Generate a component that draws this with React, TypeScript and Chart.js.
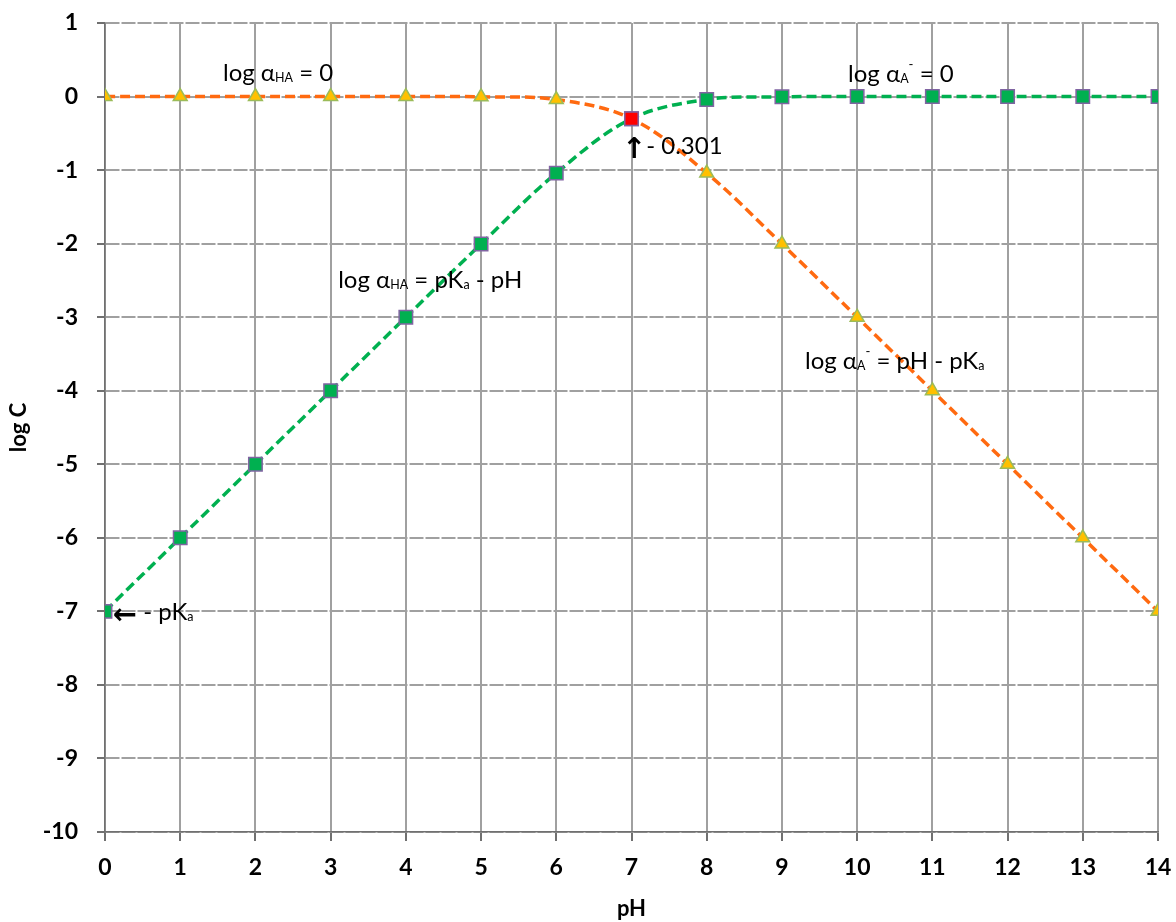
import React, { useEffect, useRef } from "react";
import { Chart, registerables } from "chart.js";

Chart.register(...registerables);

// ---- data ----
const pH = [0, 1, 2, 3, 4, 5, 6, 7, 8, 9, 10, 11, 12, 13, 14];
const logAlphaHA = [0, 0, 0, 0, -0.0004, -0.004, -0.041, -0.301, -1.041, -2.004, -3.0004, -4, -5, -6, -7];
const logAlphaA = [-7, -6, -5, -4, -3.0004, -2.004, -1.041, -0.301, -0.041, -0.004, -0.0004, 0, 0, 0, 0];
const crossPH = [7];
const crossLogC = [-0.301];
const xTicks = { min: 0, max: 14, step: 1 };
const yTicks = { min: -10, max: 1, step: 1 };

type Part = [string, "" | "sub" | "sup" | "arrow"];
const notes: { x: number; y: number; parts: Part[] }[] = [
  { x: 1.569, y: 0.211, parts: [["log α", ""], ["HA", "sub"], [" = 0", ""]] },
  { x: 9.88, y: 0.2, parts: [["log α", ""], ["A", "sub"], ["-", "sup"], [" = 0", ""]] },
  { x: 3.1, y: -2.603, parts: [["log α", ""], ["HA", "sub"], [" = pK", ""], ["a", "sub"], [" - pH", ""]] },
  { x: 9.307, y: -3.705, parts: [["log α", ""], ["A", "sub"], ["-", "sup"], [" = pH - pK", ""], ["a", "sub"]] },
  { x: 6.874, y: -0.781, parts: [["↑", "arrow"], ["- 0.301", ""]] },
  { x: 0.106, y: -7.117, parts: [["←", "arrow"], [" - pK", ""], ["a", "sub"]] },
];

const FONT = "Lato, 'DejaVu Sans', sans-serif";
const NOTE_SIZE = 24;

const notesPlugin = {
  id: "notes",
  afterDatasetsDraw(chart: any) {
    const { ctx, scales } = chart;
    const xs = scales.x;
    const ys = scales.y;
    ctx.save();
    ctx.fillStyle = "#000";
    ctx.textBaseline = "alphabetic";
    ctx.textAlign = "left";
    for (const n of notes) {
      let px = xs.getPixelForValue(n.x);
      const base = ys.getPixelForValue(n.y);
      for (const [t, mode] of n.parts) {
        let by = base;
        if (mode === "sub") {
          ctx.font = `${NOTE_SIZE * 0.52}px ${FONT}`;
          by = base + NOTE_SIZE * 0.05;
        } else if (mode === "sup") {
          ctx.font = `${NOTE_SIZE * 0.55}px ${FONT}`;
          by = base - NOTE_SIZE * 0.55;
        } else if (mode === "arrow") {
          ctx.font = `bold ${NOTE_SIZE * 1.2}px 'DejaVu Sans', sans-serif`;
          by = base + 4;
        } else {
          ctx.font = `${NOTE_SIZE}px ${FONT}`;
        }
        ctx.fillText(t, px, by);
        px += ctx.measureText(t).width;
      }
    }
    ctx.restore();
  },
};

export default function App() {
  const ref = useRef<HTMLCanvasElement | null>(null);

  useEffect(() => {
    if (!ref.current) return;
    const markIndex = pH.indexOf(crossPH[0]);
    const chart = new Chart(ref.current, {
      type: "line",
      data: {
        datasets: [
          {
            label: "cross",
            data: crossPH.map((x, i) => ({ x, y: crossLogC[i] })),
            showLine: false,
            pointStyle: "rect",
            pointRadius: 9.5,
            pointBackgroundColor: "#FF0000",
            pointBorderColor: "#8064A2",
            pointBorderWidth: 1.5,
          },
          {
            label: "log αA",
            data: pH.map((x, i) => ({ x, y: logAlphaA[i] })),
            borderColor: "#00B050",
            borderWidth: 3.5,
            borderDash: [10, 5],
            tension: 0.35,
            pointStyle: "rect",
            pointRadius: 9.5,
            pointBackgroundColor: "#00B050",
            pointBorderColor: "#8064A2",
            pointBorderWidth: 1.5,
          },
          {
            label: "log αHA",
            data: pH.map((x, i) => ({ x, y: logAlphaHA[i] })),
            borderColor: "#FF6A10",
            borderWidth: 3.5,
            borderDash: [10, 5],
            tension: 0.35,
            pointStyle: "triangle",
            pointRadius: (c: any) => (c.dataIndex === markIndex ? 0 : 8),
            pointBackgroundColor: "#FFC000",
            pointBorderColor: "#9BBB59",
            pointBorderWidth: 1.5,
          },
        ],
      },
      options: {
        responsive: false,
        animation: false,
        events: [],
        layout: { padding: { top: 23, right: 18, left: 0, bottom: 0 } },
        plugins: { legend: { display: false }, tooltip: { enabled: false } },
        scales: {
          x: {
            type: "linear",
            min: xTicks.min,
            max: xTicks.max,
            afterFit: (s: any) => {
              s.height = 90;
              s.paddingLeft = 0;
              s.paddingRight = 0;
            },
            ticks: {
              stepSize: xTicks.step,
              color: "#000",
              font: { family: FONT, size: 23, weight: "bold" },
              padding: 13,
            },
            grid: {
              color: "#A0A0A0",
              lineWidth: 2,
              tickColor: "#404040",
              tickLength: 9,
              tickWidth: 1.5,
            },
            border: { color: "#707070", width: 1.5 },
            title: {
              display: true,
              text: "pH",
              color: "#000",
              font: { family: FONT, size: 22, weight: "bold" },
              padding: { top: 0, bottom: 0 },
            },
          },
          y: {
            type: "linear",
            min: yTicks.min,
            max: yTicks.max,
            afterFit: (s: any) => {
              s.width = 105;
              s.paddingTop = 0;
              s.paddingBottom = 0;
            },
            ticks: {
              stepSize: yTicks.step,
              color: "#000",
              font: { family: FONT, size: 23, weight: "bold" },
              padding: 19,
            },
            grid: {
              color: "#A0A0A0",
              lineWidth: 2,
              tickColor: "#404040",
              tickLength: 8,
              tickWidth: 1.5,
              tickBorderDash: [],
            },
            border: { color: "#707070", width: 1.5, dash: [14, 2] },
            title: {
              display: true,
              text: "log C",
              color: "#000",
              font: { family: FONT, size: 22, weight: "bold" },
              padding: { top: 6, bottom: 0 },
            },
          },
        },
      },
      plugins: [notesPlugin],
    });
    return () => chart.destroy();
  }, []);

  return (
    <div style={{ position: "absolute", left: 0, top: 0, width: 1176, height: 922, background: "#fff" }}>
      <canvas ref={ref} width={1176} height={922} style={{ display: "block", width: 1176, height: 922 }} />
    </div>
  );
}
